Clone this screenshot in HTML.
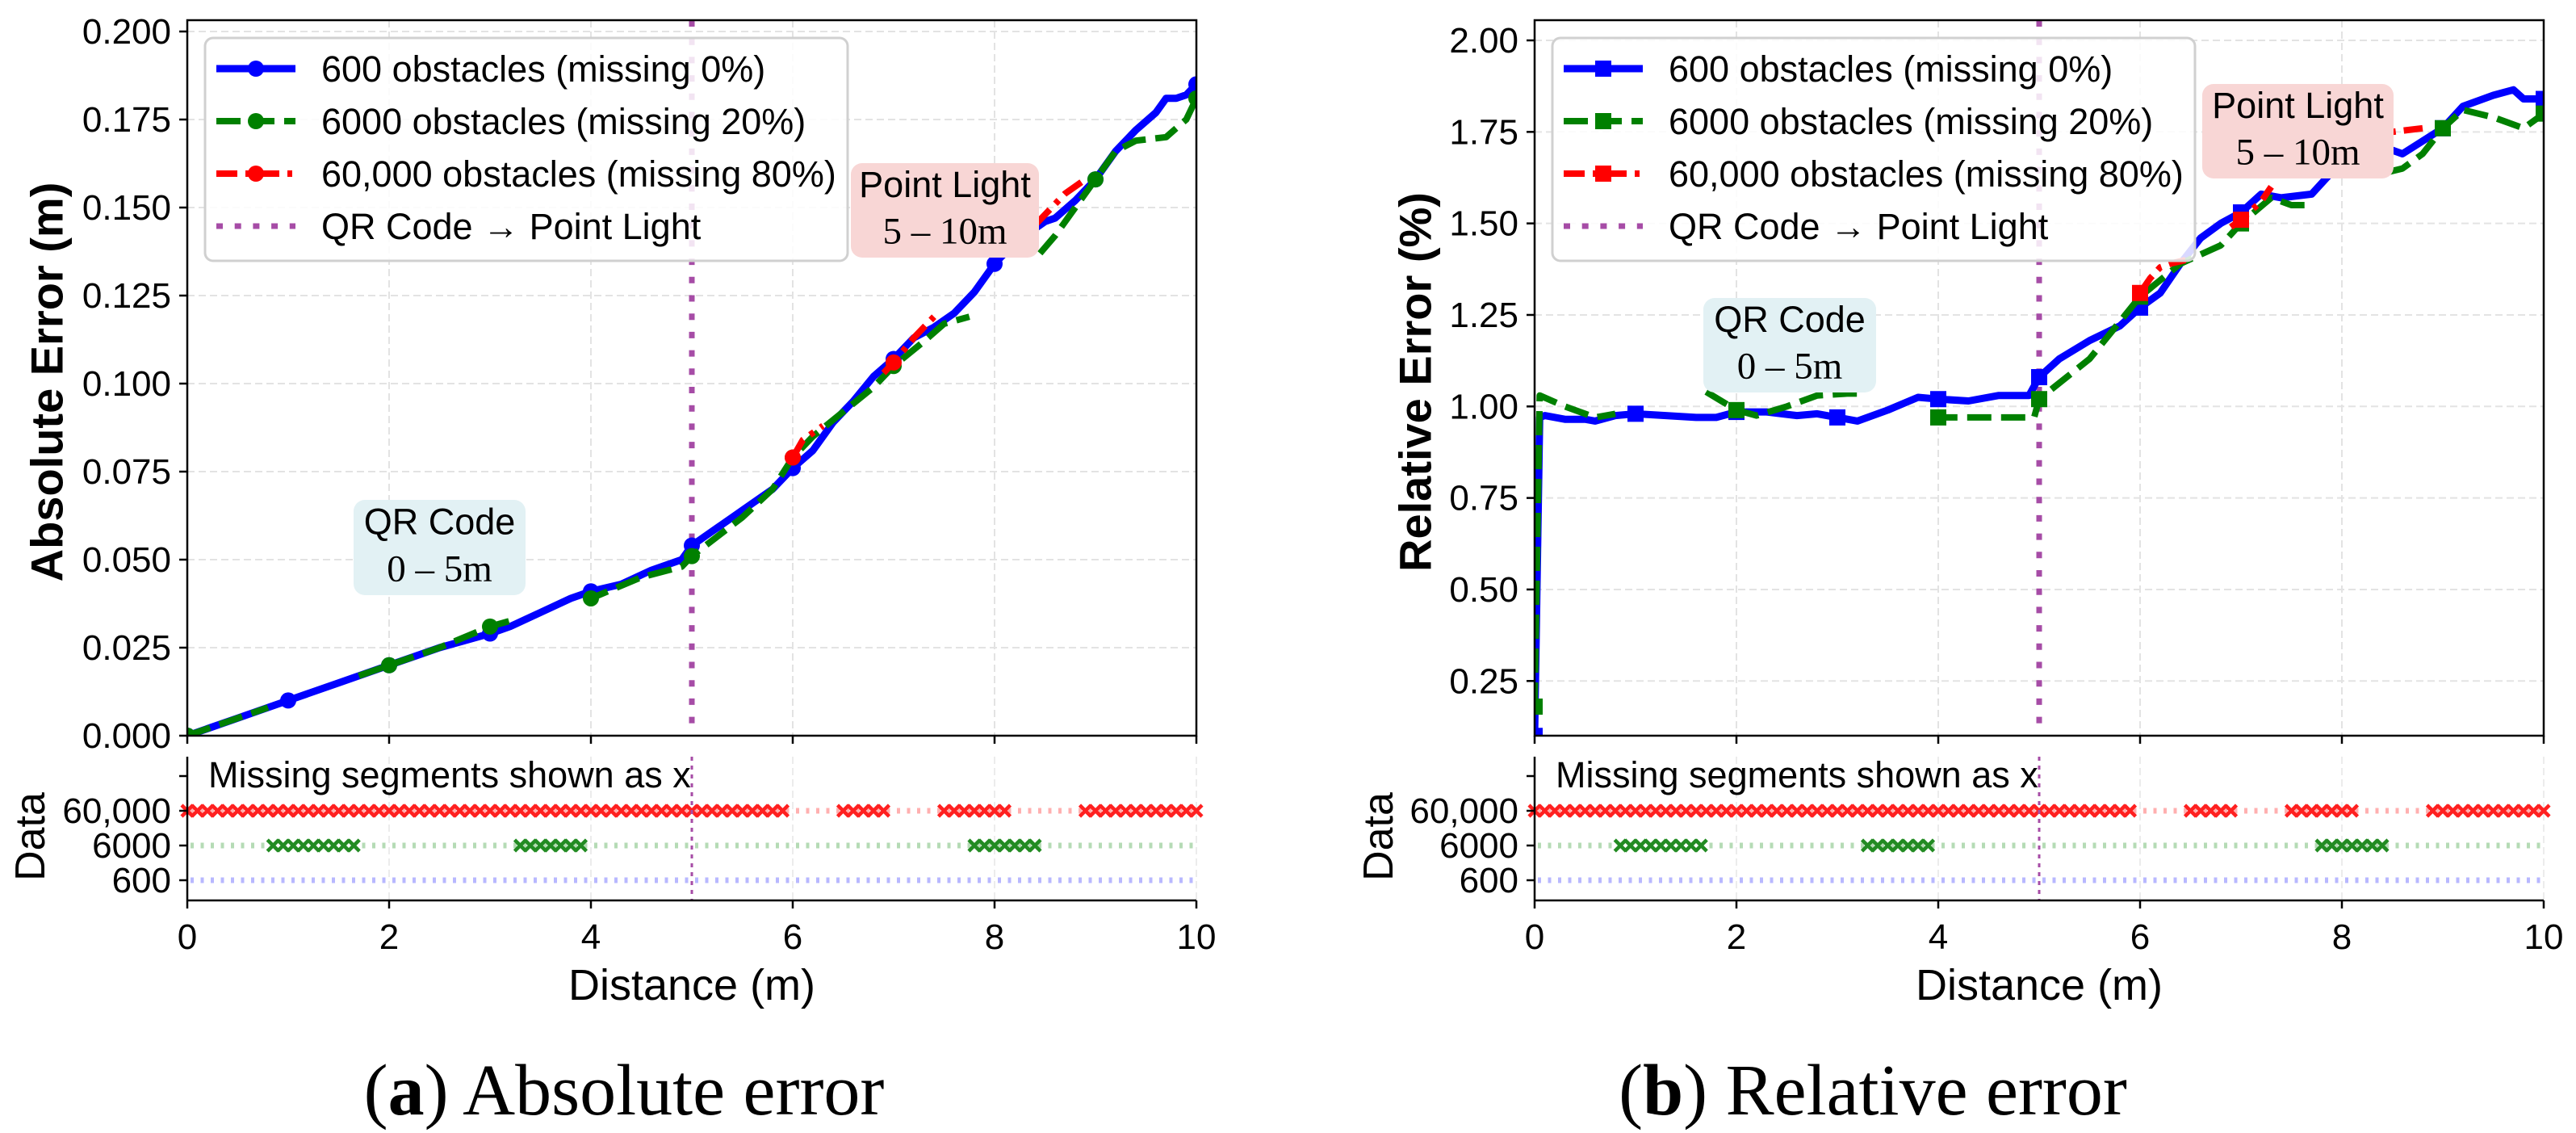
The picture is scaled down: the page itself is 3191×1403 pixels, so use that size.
<!DOCTYPE html>
<html><head><meta charset="utf-8">
<style>
html,body{margin:0;padding:0;background:#fff;}
svg{display:block;}
text{font-family:"Liberation Sans",sans-serif;}
text.serif, tspan.serif{font-family:"Liberation Serif",serif;}
</style></head>
<body>
<svg id="fig" xmlns="http://www.w3.org/2000/svg" width="3191" height="1403" viewBox="0 0 3191 1403"></svg>
<script>
// ---------- DATA ----------
const absBlueX=[0,0.5,1,1.5,2,2.5,3,3.2,3.5,3.8,4,4.3,4.6,4.9,5,5.2,5.5,5.8,6,6.2,6.4,6.6,6.8,7,7.2,7.4,7.6,7.8,8,8.2,8.4,8.5,8.6,8.8,9,9.2,9.4,9.6,9.7,9.8,9.9,10];
const absBlueY=[0,0.005,0.010,0.015,0.020,0.025,0.029,0.031,0.035,0.039,0.041,0.043,0.047,0.050,0.054,0.058,0.064,0.070,0.076,0.081,0.089,0.095,0.102,0.107,0.113,0.116,0.120,0.126,0.134,0.140,0.144,0.146,0.147,0.152,0.158,0.166,0.172,0.177,0.181,0.181,0.182,0.185];
const absGreenX=[0,0.4,0.8,0.85,1.7,2,2.5,3,3.25,3.3,3.95,4,4.5,4.9,5,5.5,5.8,6,6.2,6.5,6.8,7,7.3,7.5,7.75,7.8,8.45,8.6,8.8,9,9.2,9.4,9.7,9.9,10];
const absGreenY=[0,0.004,0.008,null,0.017,0.020,0.025,0.031,0.033,null,0.038,0.039,0.045,0.048,0.051,0.062,0.070,0.079,0.085,0.092,0.099,0.105,0.112,0.117,0.119,null,0.137,0.142,0.150,0.158,0.166,0.169,0.170,0.175,0.181];
const absRedX=[6.0,6.1,6.2,6.3,6.35,6.9,7.0,7.2,7.4,7.45,8.1,8.3,8.5,8.7,8.9];
const absRedY=[0.079,0.084,0.086,0.088,null,0.103,0.106,0.113,0.119,null,0.137,0.142,0.148,0.154,0.158];

const relBlueX=[0,0.05,0.1,0.3,0.5,0.6,0.8,1,1.3,1.6,1.8,2,2.3,2.6,2.8,3,3.2,3.5,3.8,4,4.3,4.6,4.9,5,5.2,5.5,5.8,6,6.2,6.4,6.6,6.8,7,7.2,7.4,7.7,8,8.2,8.4,8.6,9,9.2,9.5,9.7,9.8,10];
const relBlueY=[0.1,0.97,0.975,0.965,0.965,0.96,0.975,0.98,0.975,0.97,0.97,0.985,0.985,0.975,0.98,0.97,0.96,0.99,1.025,1.02,1.015,1.03,1.03,1.08,1.13,1.18,1.22,1.27,1.31,1.39,1.46,1.50,1.53,1.58,1.57,1.58,1.67,1.71,1.71,1.69,1.76,1.82,1.85,1.865,1.84,1.84];
const relGreenX=[0,0.05,0.3,0.6,0.8,0.85,1.7,2,2.2,2.5,2.8,3.1,3.25,3.3,3.95,4,4.5,4.95,5,5.5,6,6.4,6.8,7,7.3,7.5,7.7,7.8,8.45,8.6,8.8,9,9.2,9.5,9.8,10];
const relGreenY=[0.18,1.03,1.0,0.97,0.98,null,1.04,0.99,0.975,1.0,1.03,1.035,1.035,null,0.97,0.97,0.97,0.97,1.02,1.13,1.30,1.39,1.44,1.50,1.57,1.55,1.55,null,1.64,1.65,1.69,1.76,1.81,1.79,1.76,1.80];
const relRedX=[6.0,6.1,6.2,6.3,6.45,6.5,6.9,7.0,7.2,7.3,7.35,8.2,8.5,8.8];
const relRedY=[1.31,1.35,1.38,1.39,1.40,null,1.49,1.51,1.56,1.60,null,1.74,1.75,1.76];

const missRed=[[0,5.95],[6.5,6.9],[7.5,8.1],[8.9,9.5],[9.6,10]];
const missGreen=[[0.85,1.65],[3.3,3.9],[7.8,8.4]];
const missBlue=[];

const xTicks=[0,2,4,6,8,10];
const absTicks=[0,0.025,0.05,0.075,0.1,0.125,0.15,0.175,0.2];
const relTicks=[0.25,0.5,0.75,1.0,1.25,1.5,1.75,2.0];
const rowLabels=["600","6000","60,000"];
const legendLabels=["600 obstacles (missing 0%)","6000 obstacles (missing 20%)","60,000 obstacles (missing 80%)","QR Code \u2192 Point Light"];

// ---------- DRAW ----------
const NS='http://www.w3.org/2000/svg';
const svg=document.getElementById('fig');
function mk(tag,attrs,parent){const e=document.createElementNS(NS,tag);for(const k in attrs)e.setAttribute(k,attrs[k]);(parent||svg).appendChild(e);return e;}
const BLUE='#0000ff',GREEN='#008000',RED='#ff0000',PURPLE='#a64ca6';
const defs=mk('defs',{});

function panel(cfg){
  const L=cfg.left,R=L+1250,T=25,B=911,ST=937,SB=1115;
  const sx=v=>L+v*125;
  const sy=cfg.sy;
  const g=mk('g',{});
  
  
  const cp=mk('clipPath',{id:'clip-'+cfg.id},defs);
  mk('rect',{x:L,y:T,width:1250,height:B-T},cp);
  cfg.yTicks.forEach(v=>{
    const gl=mk('line',{x1:L,x2:R,y1:sy(v),y2:sy(v),stroke:'#e3e3e3','stroke-width':2,'stroke-dasharray':'9 5'},g);
    
    
  });
  xTicks.forEach(v=>{
    const gl=mk('line',{x1:sx(v),x2:sx(v),y1:T,y2:B,stroke:'#e3e3e3','stroke-width':2,'stroke-dasharray':'9 5'},g);
    
    
    const gl2=mk('line',{x1:sx(v),x2:sx(v),y1:ST,y2:SB,stroke:'#ececec','stroke-width':2,'stroke-dasharray':'9 5'},g);
    
    
  });
  const vl=mk('line',{x1:sx(5),x2:sx(5),y1:T,y2:B,stroke:PURPLE,'stroke-width':7,'stroke-dasharray':'8 14.7'},g);
  
  
  const sg=mk('g',{'clip-path':'url(#clip-'+cfg.id+')'},g);
  function series(xs,ys,color,dash,name,width){
    let d='',pen=false;
    xs.forEach((x,i)=>{const y=ys[i];if(y===null){pen=false;return;}d+=(pen?'L':'M')+sx(x).toFixed(1)+','+sy(y).toFixed(1);pen=true;});
    const p=mk('path',{d:d,fill:'none',stroke:color,'stroke-width':width,'stroke-linejoin':'round','stroke-dasharray':dash},sg);
    
    
    xs.forEach((x,i)=>{const y=ys[i];if(y===null||Math.abs(x-Math.round(x))>1e-6)return;
      let m;
      if(cfg.square)m=mk('rect',{x:sx(x)-10,y:sy(y)-10,width:20,height:20,fill:color},sg);
      else m=mk('circle',{cx:sx(x),cy:sy(y),r:10,fill:color},sg);
      
      
    });
  }
  series(cfg.bx,cfg.by,BLUE,'none','series-600',9);
  series(cfg.gx,cfg.gy,GREEN,'30 12','series-6000',8);
  series(cfg.rx,cfg.ry,RED,'26 10 6 10','series-60000',8);
  const fr=mk('rect',{x:L,y:T,width:1250,height:B-T,fill:'none',stroke:'#000','stroke-width':2.5},g);
  
  
  cfg.yTicks.forEach(v=>{
    mk('line',{x1:L-10,x2:L,y1:sy(v),y2:sy(v),stroke:'#000','stroke-width':2.5},g);
    const t=mk('text',{x:L-20,y:sy(v)+15,'font-size':44,'text-anchor':'end'},g);
    t.textContent=v.toFixed(cfg.dec);
    
    
  });
  xTicks.forEach(v=>{mk('line',{x1:sx(v),x2:sx(v),y1:B,y2:B+10,stroke:'#000','stroke-width':2.5},g);});
  const yl=mk('text',{x:cfg.ylx,y:473,'font-size':56,'font-weight':'bold','text-anchor':'middle','dominant-baseline':'central',transform:'rotate(-90 '+cfg.ylx+' 473)'},g);
  yl.textContent=cfg.ylabel;
  
  
  function box(x1,y1,x2,y2,fill,l1,l2,name){
    const bg=mk('g',{},g);
    
    
    mk('rect',{x:x1,y:y1,width:x2-x1,height:y2-y1,rx:14,fill:fill},bg);
    const cx=(x1+x2)/2;
    const a=mk('text',{x:cx,y:y1+(y2-y1)*0.36,'font-size':45,'text-anchor':'middle'},bg);a.textContent=l1;
    const b=mk('text',{x:cx,y:y1+(y2-y1)*0.85,'font-size':47,'text-anchor':'middle','class':'serif'},bg);b.textContent=l2;
  }
  box(cfg.qr[0],cfg.qr[1],cfg.qr[2],cfg.qr[3],'#e2f1f4','QR Code','0 \u2013 5m','qr-code-annotation');
  box(cfg.pl[0],cfg.pl[1],cfg.pl[2],cfg.pl[3],'#f8d6d5','Point Light','5 \u2013 10m','point-light-annotation');
  const lg=mk('g',{},g);
  
  
  mk('rect',{x:L+22,y:47,width:796,height:276,rx:10,fill:'rgba(255,255,255,0.85)',stroke:'#d0d0d0','stroke-width':3},lg);
  const hx1=L+36,hx2=L+134,hm=L+85;
  const styles=[[BLUE,'none',9],[GREEN,'30 12',8],[RED,'26 10 6 10',8],[PURPLE,'8 14.7',7]];
  legendLabels.forEach((lab,i)=>{
    const y=85+i*65;
    const le=mk('g',{},lg);
    
    
    mk('line',{x1:hx1,x2:hx2,y1:y,y2:y,stroke:styles[i][0],'stroke-width':styles[i][2],'stroke-dasharray':styles[i][1]},le);
    if(i<3){ if(cfg.square)mk('rect',{x:hm-10,y:y-10,width:20,height:20,fill:styles[i][0]},le); else mk('circle',{cx:hm,cy:y,r:10,fill:styles[i][0]},le);}
    const t=mk('text',{x:L+166,y:y+16,'font-size':45},le);t.textContent=lab;
  });
  const rowY=v=>1090-v*43;
  const sub=mk('g',{},g);
  
  
  const rows=[[missBlue,'#b8b8ff',BLUE],[missGreen,'#b5dbb5','#228b22'],[missRed,'#ffb0b0','#ff2020']];
  rows.forEach((r,i)=>{
    const y=rowY(i);
    const ln=mk('line',{x1:sx(0)+4,x2:R,y1:y,y2:y,stroke:r[1],'stroke-width':7,'stroke-dasharray':'4 8.5'},sub);
    
    
    r[0].forEach(seg=>{
      for(let x=seg[0];x<=seg[1]+1e-6;x+=0.1){
        const px=sx(x),mxp=mk('path',{d:'M'+(px-7)+','+(y-7)+'L'+(px+7)+','+(y+7)+'M'+(px-7)+','+(y+7)+'L'+(px+7)+','+(y-7),stroke:r[2],'stroke-width':4.5,fill:'none'},sub);
        
        
      }
    });
    mk('line',{x1:L-10,x2:L,y1:y,y2:y,stroke:'#000','stroke-width':2.5},sub);
    const t=mk('text',{x:L-20,y:y+15,'font-size':44,'text-anchor':'end'},sub);t.textContent=rowLabels[i];
    
    
  });
  mk('line',{x1:L-10,x2:L,y1:rowY(3),y2:rowY(3),stroke:'#000','stroke-width':2.5},sub);
  mk('line',{x1:sx(5),x2:sx(5),y1:ST,y2:SB,stroke:PURPLE,'stroke-width':3,'stroke-dasharray':'5 6'},sub);
  mk('line',{x1:L,x2:L,y1:ST,y2:SB,stroke:'#000','stroke-width':2.5},sub);
  mk('line',{x1:L,x2:R,y1:SB,y2:SB,stroke:'#000','stroke-width':2.5},sub);
  const mt=mk('text',{x:L+26,y:975,'font-size':45},sub);mt.textContent='Missing segments shown as x';
  const dl=mk('text',{x:cfg.dlx,y:1036,'font-size':52,'text-anchor':'middle','dominant-baseline':'central',transform:'rotate(-90 '+cfg.dlx+' 1036)'},sub);dl.textContent='Data';
  
  
  xTicks.forEach(v=>{
    mk('line',{x1:sx(v),x2:sx(v),y1:SB,y2:SB+10,stroke:'#000','stroke-width':2.5},sub);
    const t=mk('text',{x:sx(v),y:1175,'font-size':44,'text-anchor':'middle'},sub);t.textContent=String(v);
    
    
  });
  const xl=mk('text',{x:sx(5),y:1238,'font-size':54,'text-anchor':'middle'},g);xl.textContent='Distance (m)';
  
  
  const cap=mk('text',{x:cfg.capx,y:1380,'font-size':90,'text-anchor':'middle','class':'serif'},g);
  cap.innerHTML='(<tspan class="serif" font-weight="bold">'+cfg.capL+'</tspan>) '+cfg.capT;
  
  
}

panel({id:'abs',left:232,sy:v=>911-v*4360,yTicks:absTicks,dec:3,ylabel:'Absolute Error (m)',ylx:58,dlx:38,
  bx:absBlueX,by:absBlueY,gx:absGreenX,gy:absGreenY,rx:absRedX,ry:absRedY,square:false,
  qr:[438,619,651,737],pl:[1054,202,1287,319],capx:773,capL:'a',capT:'Absolute error'});
panel({id:'rel',left:1901,sy:v=>50+(2.0-v)*453.3,yTicks:relTicks,dec:2,ylabel:'Relative Error (%)',ylx:1753,dlx:1708,
  bx:relBlueX,by:relBlueY,gx:relGreenX,gy:relGreenY,rx:relRedX,ry:relRedY,square:true,
  qr:[2110,369,2324,486],pl:[2728,104,2965,221],capx:2320,capL:'b',capT:'Relative error'});
</script>
</body></html>
